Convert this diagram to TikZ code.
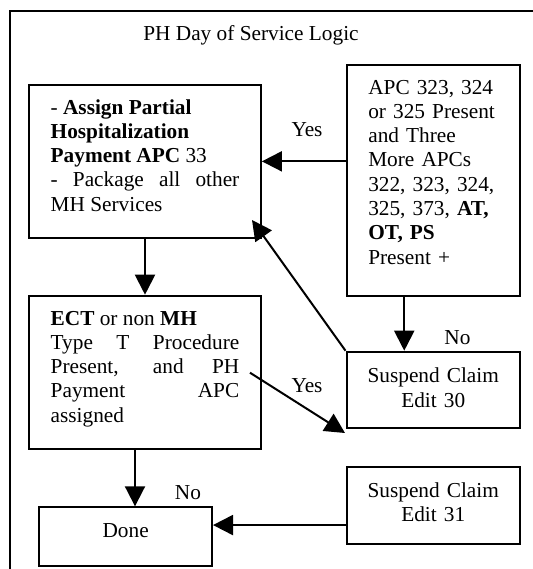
\documentclass[tikz,border=0pt]{standalone}
\usepackage{fontspec}
\setmainfont{Liberation Serif}
\usepackage{tikz}
\usetikzlibrary{arrows.meta}

\begin{document}
\begin{tikzpicture}[x=0.5pt,y=-0.5pt,
  font=\fontsize{10.65}{12.15}\selectfont,
  box/.style={draw,line width=1pt,inner ysep=0pt,inner xsep=10.8pt},
  arr/.style={line width=1pt,-{Triangle[length=10pt,width=10pt]}},
  lbl/.style={inner sep=0pt,anchor=base}]
\useasboundingbox (0,0) rectangle (533,569);

\draw [line width=0.75pt] (10,575)--(10,11.2)--(540,11.2);
\node [lbl] (title) at (251,40.8) {PH Day of Service Logic};

\node [box,align=justify,text width=94.3pt,text height=14.5pt,text depth=61.85pt] (assign) at (145,161.35) {- \textbf{Assign Partial}\\ \textbf{Hospitalization}\\ \textbf{Payment APC} 33\\ - Package all other\linebreak MH Services};
\node [box,align=left,text width=64.95pt,text height=14.5pt,text depth=101pt] (check) at (433.25,180.5) {APC 323, 324\\ or 325 Present\\ and Three\\ More APCs\\ 322, 323, 324,\\ 325, 373, \textbf{AT,}\\ \textbf{OT, PS}\\ Present +};
\node [box,align=justify,text width=94.3pt,text height=14.65pt,text depth=62pt] (ectbox) at (145,372.35) {\textbf{ECT} or non \textbf{MH}\\ Type T Procedure\linebreak Present, and PH\linebreak Payment APC\linebreak assigned};
\node [box,inner xsep=5pt,align=center,text width=76.75pt,text height=15.5pt,text depth=22.8pt] (susp30) at (433.25,390) {Suspend Claim\\ Edit 30};
\node [box,inner xsep=5pt,align=center,text width=76.75pt,text height=15.3pt,text depth=23.35pt] (susp31) at (433.25,505.35) {Suspend Claim\\ Edit 31\hspace*{8pt}};
\node [box,inner xsep=5pt,align=center,text width=76.35pt,text height=14.85pt,text depth=14.35pt] (done) at (125.65,536.5) {Done\hspace*{10.7pt}};

\coordinate (tipDA) at (252,220);
\coordinate (ectOut) at (250,372.7);
\coordinate (tipCD) at (345,433);

\draw [arr] (check.west |- assign.east) -- (assign.east);
\draw [arr] (assign.south) -- (ectbox.north);
\draw [arr] ([xshift=-14.5pt]check.south) -- ([xshift=-14.5pt]susp30.north);
\draw [arr] (susp30.north west) -- (tipDA);
\draw [arr] (ectOut) -- (tipCD);
\draw [arr] ([xshift=-5pt]ectbox.south) -- ([xshift=-5pt]ectbox.south |- done.north);
\draw [arr] ([yshift=-9.85pt]susp31.west) -- ([yshift=-9.85pt]susp31.west -| done.east);

\node [lbl] (yes1) at (307,136.5) {Yes};
\node [lbl] (no1) at (457.5,344) {No};
\node [lbl] (yes2) at (307,392) {Yes};
\node [lbl] (no2) at (188,499) {No};
\end{tikzpicture}
\end{document}
